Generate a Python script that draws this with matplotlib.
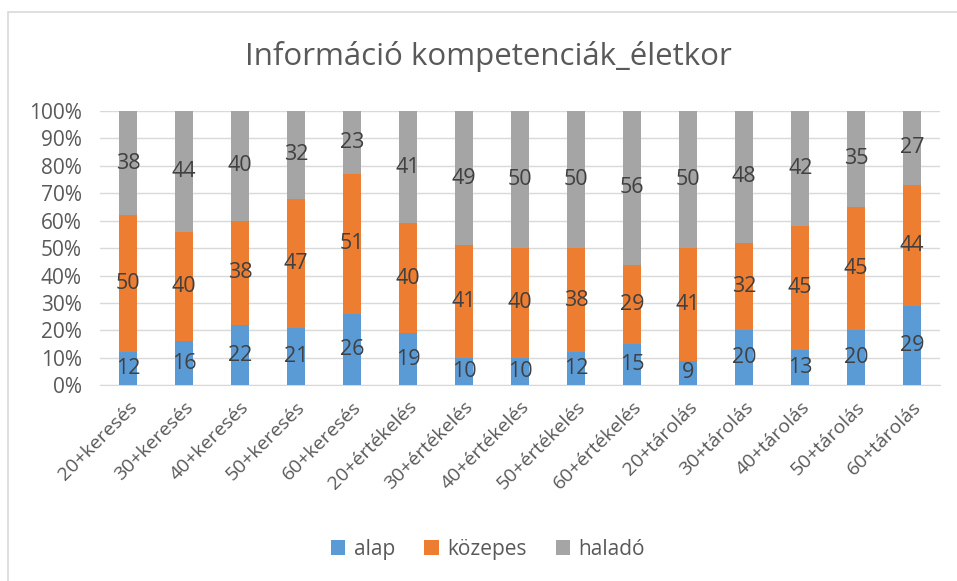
import matplotlib.pyplot as plt
import numpy as np

categories = ["20+keresés", "30+keresés", "40+keresés", "50+keresés", "60+keresés",
              "20+értékelés", "30+értékelés", "40+értékelés", "50+értékelés", "60+értékelés",
              "20+tárolás", "30+tárolás", "40+tárolás", "50+tárolás", "60+tárolás"]
alap = [12, 16, 22, 21, 26, 19, 10, 10, 12, 15, 9, 20, 13, 20, 29]
kozepes = [50, 40, 38, 47, 51, 40, 41, 40, 38, 29, 41, 32, 45, 45, 44]
halado = [38, 44, 40, 32, 23, 41, 49, 50, 50, 56, 50, 48, 42, 35, 27]

plt.rcParams['font.family'] = ['Open Sans', 'DejaVu Sans']
txt = "#595959"

fig = plt.figure(figsize=(9.57, 5.81), dpi=100)
ax = fig.add_axes([0.1045, 0.337, 0.878, 0.472])

x = np.arange(len(categories))
a = np.array(alap, dtype=float)
k = np.array(kozepes, dtype=float)
h = np.array(halado, dtype=float)
tot = a + k + h

series = [("alap", a, "#5B9BD5"), ("közepes", k, "#ED7D31"), ("haladó", h, "#A5A5A5")]
bottom = np.zeros(len(x))
for name, vals, col in series:
    frac = vals / tot
    ax.bar(x, frac, 0.32, bottom=bottom, color=col, label=name, zorder=3)
    for xi, b, f, v in zip(x, bottom, frac, vals):
        ax.text(xi, b + f / 2, str(int(v)), ha="center", va="center",
                fontsize=15.5, color="#404040", zorder=4)
    bottom = bottom + frac

ax.set_xlim(-0.5, len(x) - 0.5)
ax.set_ylim(0, 1)
ax.set_yticks(np.arange(0, 1.01, 0.1))
ax.set_yticklabels([f"{int(round(t * 100))}%" for t in np.arange(0, 1.01, 0.1)])
ax.yaxis.grid(True, color="#D9D9D9", linewidth=1, zorder=0)
for s in ["top", "right", "left"]:
    ax.spines[s].set_visible(False)
ax.spines["bottom"].set_color("#D9D9D9")
ax.tick_params(axis="both", length=0, labelcolor=txt)
ax.tick_params(axis="y", pad=13, labelsize=15)
ax.tick_params(axis="x", pad=9, labelsize=14)
ax.set_xticks(x)
ax.set_xticklabels(categories, rotation=45, ha="right", rotation_mode="anchor")

fig.text(0.51, 0.902, "Információ kompetenciák_életkor", ha="center", va="center",
         fontsize=22.5, color=txt)

fig.legend(loc="center", bbox_to_anchor=(0.51, 0.055), ncol=3, frameon=False,
           fontsize=15, labelcolor=txt, handlelength=0.7, handleheight=0.7,
           handletextpad=0.4, columnspacing=1.4)

# chart border
fig.patches.append(plt.Rectangle((8 / 957, -0.1), 1.2, 1 - 12 / 581 + 0.1,
                                 transform=fig.transFigure, fill=False,
                                 edgecolor="#D9D9D9", linewidth=1.2))

fig.savefig("out.png", dpi=100)
